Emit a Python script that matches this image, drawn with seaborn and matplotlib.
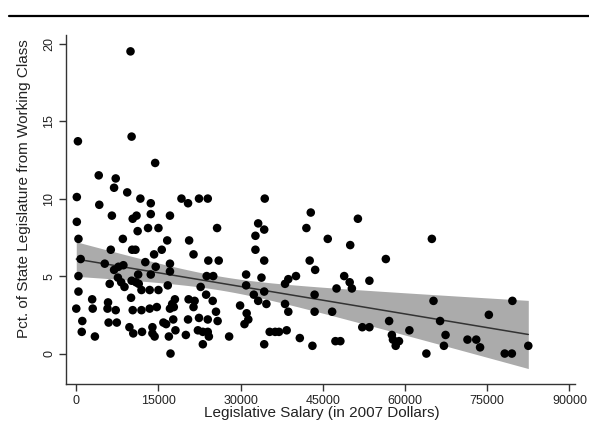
import matplotlib
matplotlib.use("Agg")
import matplotlib.pyplot as plt
import seaborn as sns
import pandas as pd
import numpy as np

# Legislative salary (2007 dollars)
salary = [
    9900, 300, 10100, 14400, 4100, 7200, 6900, 9300, 100, 11700,
    13600, 4200, 6500, 13600, 11000, 10300, 100, 11200, 13100, 15000,
    400, 8500, 6300, 10200, 10800, 15600, 14200, 800, 5200, 8600,
    7700, 6900, 12600, 14500, 13600, 11300, 400, 7600, 6100, 8200,
    10100, 10900, 8800, 11400, 11900, 13400, 15000, 400, 10000, 2900,
    5800, 0, 3000, 5700, 7200, 10300, 11900, 13400, 14700, 1100,
    5900, 7400, 9700, 13900, 15900, 1000, 10400, 12000, 13900, 3400,
    14300, 19200, 20400, 22400, 24000, 17100, 25700, 16600, 20600, 21400,
    33200, 32700, 32700, 24100, 26000, 17100, 17100, 16700, 23800, 25000,
    22700, 23700, 24900, 31000, 31000, 32400, 33200, 29900, 31100, 31400,
    30700, 18000, 17500, 17800, 17100, 20500, 21600, 21400, 25500, 25800,
    16400, 17700, 18100, 16900, 20400, 22400, 24000, 22200, 23100, 24000,
    24200, 20000, 23100, 27900, 17200, 34300, 34400, 33800, 34300, 34300,
    34700, 35300, 36300, 37000, 38400, 34300, 38100, 38700, 38700, 40100,
    38100, 40800, 42000, 42800, 42600, 43600, 43500, 43500, 43100, 46700,
    45900, 48900, 49900, 50300, 47500, 50000, 51400, 47300, 48200, 53500,
    56500, 57100, 52200, 53500, 60800, 57600, 57800, 58900, 58300, 63900,
    64900, 65200, 66400, 67400, 67100, 71400, 73000, 73700, 75300, 78200,
    79500, 79600, 82500,
]

# Percent of state legislature from the working class
pct_working = [
    19.5, 13.7, 14.0, 12.3, 11.5, 11.3, 10.7, 10.4, 10.1, 10.0,
    9.7, 9.6, 8.9, 9.0, 8.9, 8.7, 8.5, 7.9, 8.1, 8.1,
    7.4, 7.4, 6.7, 6.7, 6.7, 6.7, 6.4, 6.1, 5.8, 5.7,
    5.6, 5.4, 5.9, 5.6, 5.1, 5.1, 5.0, 4.9, 4.5, 4.6,
    4.7, 4.6, 4.3, 4.5, 4.1, 4.1, 4.1, 4.0, 3.6, 3.5,
    3.3, 2.9, 2.9, 2.9, 2.8, 2.8, 2.8, 2.9, 3.0, 2.1,
    2.0, 2.0, 1.7, 1.7, 2.0, 1.4, 1.3, 1.4, 1.3, 1.1,
    1.1, 10.0, 9.7, 10.0, 10.0, 8.9, 8.1, 7.3, 7.3, 6.4,
    8.4, 7.6, 6.7, 6.0, 6.0, 5.8, 5.3, 4.4, 5.0, 5.0,
    4.3, 3.8, 3.4, 5.1, 4.4, 3.8, 3.4, 3.1, 2.6, 2.2,
    1.9, 3.5, 3.2, 3.0, 2.9, 3.5, 3.4, 3.0, 2.7, 2.1,
    1.9, 2.2, 1.5, 1.1, 2.2, 2.3, 2.2, 1.5, 1.4, 1.4,
    1.1, 1.2, 0.6, 1.1, 0.0, 8.0, 10.0, 4.9, 6.0, 4.0,
    3.2, 1.4, 1.4, 1.4, 1.5, 0.6, 3.2, 2.7, 4.8, 5.0,
    4.5, 1.0, 8.1, 9.1, 6.0, 5.4, 3.8, 2.7, 0.5, 2.7,
    7.4, 5.0, 4.6, 4.2, 4.2, 7.0, 8.7, 0.8, 0.8, 4.7,
    6.1, 2.1, 1.7, 1.7, 1.5, 1.2, 0.9, 0.8, 0.5, 0.0,
    7.4, 3.4, 2.1, 1.2, 0.5, 0.9, 0.9, 0.4, 2.5, 0.0,
    0.0, 3.4, 0.5,
]

x_ticks = [0, 15000, 30000, 45000, 60000, 75000, 90000]
y_ticks = [0, 5, 10, 15, 20]
x_label = "Legislative Salary (in 2007 Dollars)"
y_label = "Pct. of State Legislature from Working Class"

df = pd.DataFrame({"salary": salary, "pct": pct_working})

# OLS fit with 95% confidence band; the slope variance is inflated by a
# design effect (repeated state observations), which widens the fan.
xv = df["salary"].to_numpy(float)
yv = df["pct"].to_numpy(float)
n = len(xv)
b1, b0 = np.polyfit(xv, yv, 1)
resid = yv - (b0 + b1 * xv)
s = np.sqrt((resid ** 2).sum() / (n - 2))
sxx = ((xv - xv.mean()) ** 2).sum()
deff = 3.0
grid = np.linspace(xv.min(), xv.max(), 200)
fit = b0 + b1 * grid
se = s * np.sqrt(1.0 / n + deff * (grid - xv.mean()) ** 2 / sxx)
tval = 1.973
band = pd.DataFrame({"x": grid, "fit": fit, "lo": fit - tval * se, "hi": fit + tval * se})

sns.set_style("white")
plt.rcParams["font.family"] = ["Liberation Sans", "DejaVu Sans"]

fig = plt.figure(figsize=(5.89, 4.23), dpi=100)
ax = fig.add_axes([0.112, 0.092, 0.864, 0.825])

ax.fill_between(band["x"], band["lo"], band["hi"], color="#ababab",
                linewidth=0, zorder=1)
sns.lineplot(data=band, x="x", y="fit", ax=ax, color="#333333", lw=1.1,
             zorder=2)
sns.scatterplot(data=df, x="salary", y="pct", ax=ax, s=38, color="black",
                edgecolor="none", zorder=3)

ax.set_xlim(-1880, 91000)
ax.set_ylim(-1.97, 20.55)
ax.set_xticks(x_ticks)
ax.set_yticks(y_ticks)
ax.set_xticklabels([str(v) for v in x_ticks])
ax.set_yticklabels([str(v) for v in y_ticks], rotation=90, va="center")

for side in ["top", "right"]:
    ax.spines[side].set_visible(False)
for side in ["left", "bottom"]:
    ax.spines[side].set_color("#333333")
    ax.spines[side].set_linewidth(1.0)

ax.tick_params(axis="both", direction="out", length=5, width=1.0,
               color="#333333", labelsize=9, labelcolor="#222222",
               left=True, bottom=True, pad=2.5)

ax.set_xlabel(x_label, fontsize=11, color="#222222", va="top")
ax.set_ylabel(y_label, fontsize=11, color="#222222")
ax.xaxis.set_label_coords(0.503, -0.064)
ax.yaxis.set_label_coords(-0.068, 0.56)

# horizontal rule at top of figure
fig.add_artist(plt.Line2D([0.015, 1.0], [1 - 16 / 423, 1 - 16 / 423],
                          color="black", lw=1.6, transform=fig.transFigure))

fig.savefig("out.png", dpi=100)
